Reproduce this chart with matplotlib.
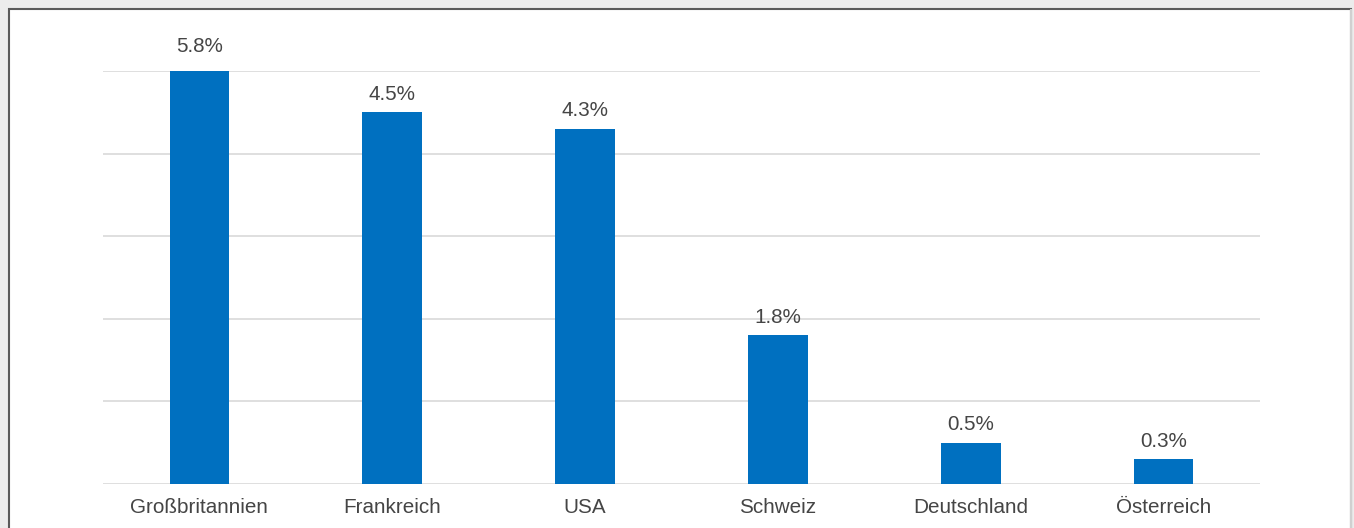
import matplotlib.pyplot as plt
from matplotlib.patches import Rectangle

plt.rcParams['font.family'] = ['Liberation Sans', 'DejaVu Sans']

laender = ['Großbritannien', 'Frankreich', 'USA', 'Schweiz', 'Deutschland', 'Österreich']
werte = [5.8, 4.5, 4.3, 1.8, 0.5, 0.3]
labels = ['5.8%', '4.5%', '4.3%', '1.8%', '0.5%', '0.3%']

W, H = 1354, 528
fig = plt.figure(figsize=(W / 100, H / 100), dpi=100)
fig.patch.set_facecolor('#ececec')

# white panel with dark border (top/left), light line on the right
panel = Rectangle((9 / W, -0.05), (1351 - 9) / W, (H - 9) / H + 0.05,
                  transform=fig.transFigure, facecolor='white',
                  edgecolor='#5a5a5a', linewidth=1.5, zorder=-10)
fig.patches.append(panel)
fig.add_artist(plt.Line2D([1351 / W, 1351 / W], [0, (H - 10) / H],
                          transform=fig.transFigure, color='#d0d0d0', lw=1.5,
                          zorder=-9))

ax = fig.add_axes([103 / W, 44 / H, (1260 - 103) / W, (484 - 71) / H])
ax.set_facecolor('none')

x = range(len(laender))
ax.bar(x, werte, width=0.31, color='#0070c0', zorder=2)

ax.set_xlim(-0.5, len(laender) - 0.5)
ax.set_ylim(0, 5)
ax.set_yticks([0, 1, 2, 3, 4, 5])
ax.yaxis.grid(True, color='#d9d9d9', lw=1.2)
ax.set_axisbelow(True)
ax.tick_params(axis='y', left=False, labelleft=False)
ax.tick_params(axis='x', length=0, pad=10, labelsize=14.9, colors='#454545')
ax.set_xticks(list(x))
ax.set_xticklabels(laender)
for s in ax.spines.values():
    s.set_visible(False)

for i, (v, t) in enumerate(zip(werte, labels)):
    top = min(v, 5)
    off = 24 if v > 5 else 18
    ax.annotate(t, (i, top), xytext=(0, off * 0.72), textcoords='offset points',
                ha='center', va='center', fontsize=14.9, color='#454545',
                annotation_clip=False)

fig.savefig('out.png', dpi=100, facecolor=fig.get_facecolor())
